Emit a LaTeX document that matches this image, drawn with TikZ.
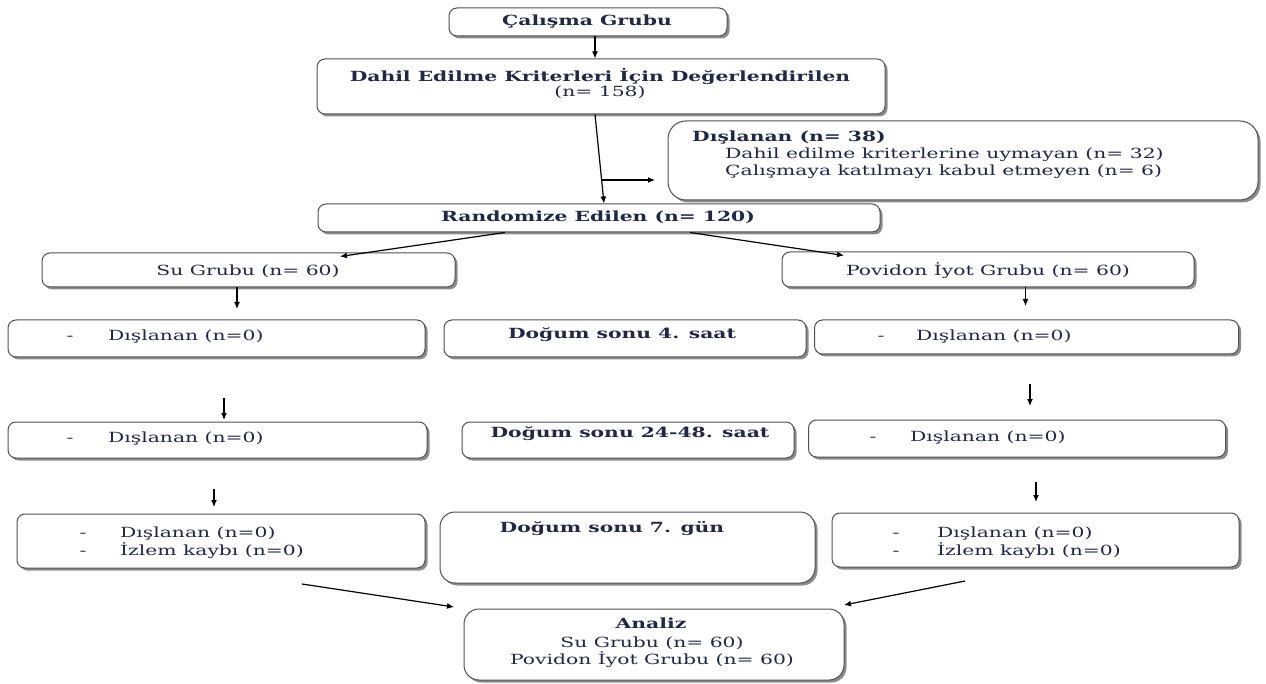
\documentclass[tikz,border=0pt]{standalone}
\usepackage{fontspec}
\setmainfont{DejaVu Serif}[FakeStretch=1.45]
\usetikzlibrary{shadows,arrows.meta}
\definecolor{txt}{RGB}{32,40,70}
\definecolor{edgec}{RGB}{80,80,80}
\begin{document}
\begin{tikzpicture}[x=1pt,y=-1pt,
 box/.style={draw=edgec, line width=1pt, rounded corners=8pt, fill=white,
   drop shadow={shadow xshift=2.5pt,shadow yshift=-2.5pt,fill=black!45,opacity=1}, inner sep=0pt},
 lbl/.style={text=txt, inner sep=0pt, anchor=base, font=\fontsize{14}{17}\selectfont},
 blbl/.style={text=txt, inner sep=0pt, anchor=base, font=\fontsize{14}{17}\selectfont\bfseries},
 arr/.style={-{Latex[length=7pt,width=6pt]}, line width=1.2pt, black}]
\useasboundingbox[fill=white] (0,0) rectangle (1266,684);

% boxes
\node[box, minimum width=278pt, minimum height=28pt] (b1) at (588,22) {};
\node[box, minimum width=568pt, minimum height=55pt] (b2) at (601,86.5) {};
\node[box, rounded corners=18pt, minimum width=590pt, minimum height=79pt] (ex) at (963,160.5) {};
\node[box, minimum width=562pt, minimum height=28pt] (rd) at (599,218) {};
\node[box, minimum width=413pt, minimum height=34pt] (su) at (248.5,270) {};
\node[box, minimum width=412pt, minimum height=35pt] (pv) at (988,269.5) {};
\node[box, minimum width=417pt, minimum height=37pt] (l3) at (216.5,338.5) {};
\node[box, minimum width=362pt, minimum height=37pt] (m3) at (625,338.5) {};
\node[box, minimum width=424pt, minimum height=34pt] (r3) at (1026.5,337) {};
\node[box, minimum width=419pt, minimum height=36pt] (l4) at (217.5,440) {};
\node[box, minimum width=332pt, minimum height=36pt] (m4) at (628,440) {};
\node[box, minimum width=417pt, minimum height=37pt] (r4) at (1017,438.5) {};
\node[box, minimum width=408pt, minimum height=54pt] (l5) at (221,541) {};
\node[box, rounded corners=15pt, minimum width=375pt, minimum height=71pt] (m5) at (627.5,547.5) {};
\node[box, minimum width=407pt, minimum height=54pt] (r5) at (1035.5,540) {};
\node[box, rounded corners=15pt, minimum width=380pt, minimum height=71pt] (an) at (654,644.5) {};

% texts
\node[blbl] (t1) at (587,26) {Çalışma Grubu};
\node[blbl] (t2a) at (600,82) {Dahil Edilme Kriterleri İçin Değerlendirilen};
\node[lbl] (t2b) at (600,97) {(n= 158)};
\node[blbl, anchor=base west] (tea) at (692,142) {Dışlanan (n= 38)};
\node[lbl, anchor=base west] (teb) at (725,159) {Dahil edilme kriterlerine uymayan (n= 32)};
\node[lbl, anchor=base west] (tec) at (725,176) {Çalışmaya katılmayı kabul etmeyen (n= 6)};
\node[blbl] (trd) at (598,222) {Randomize Edilen (n= 120)};
\node[lbl] (tsu) at (248,276) {Su Grubu (n= 60)};
\node[lbl] (tpv) at (988,276) {Povidon İyot Grubu (n= 60)};

\node[lbl] (dl3) at (70,341) {-};
\node[lbl, anchor=base west] (tl3) at (108,341) {Dışlanan (n=0)};
\node[blbl] (tm3) at (622,339) {Doğum sonu 4. saat};
\node[lbl] (dr3) at (881,341) {-};
\node[lbl, anchor=base west] (tr3) at (916,341) {Dışlanan (n=0)};

\node[lbl] (dl4) at (70,442) {-};
\node[lbl, anchor=base west] (tl4) at (108,442) {Dışlanan (n=0)};
\node[blbl] (tm4) at (630,437) {Doğum sonu 24-48. saat};
\node[lbl] (dr4) at (873,441) {-};
\node[lbl, anchor=base west] (tr4) at (910,441) {Dışlanan (n=0)};

\node[lbl] (dl5a) at (83,537) {-};
\node[lbl, anchor=base west] (tl5a) at (120,537) {Dışlanan (n=0)};
\node[lbl] (dl5b) at (83,555) {-};
\node[lbl, anchor=base west] (tl5b) at (120,555) {İzlem kaybı (n=0)};
\node[blbl] (tm5) at (612,532) {Doğum sonu 7. gün};
\node[lbl] (dr5a) at (896,537) {-};
\node[lbl, anchor=base west] (tr5a) at (937,537) {Dışlanan (n=0)};
\node[lbl] (dr5b) at (896,555) {-};
\node[lbl, anchor=base west] (tr5b) at (937,555) {İzlem kaybı (n=0)};

\node[blbl] (tan1) at (651,628) {Analiz};
\node[lbl] (tan2) at (652,647) {Su Grubu (n= 60)};
\node[lbl] (tan3) at (652,664) {Povidon İyot Grubu (n= 60)};

% free arrow ends
\coordinate (sp) at (602,180);
\coordinate (spe) at (655,180);
\coordinate (a1e) at (237,309);
\coordinate (a2e) at (1025.5,306);
\coordinate (a3s) at (224,398); \coordinate (a3e) at (224,420);
\coordinate (a4s) at (1030,384); \coordinate (a4e) at (1030,406);
\coordinate (a5s) at (214,489); \coordinate (a5e) at (214,507);
\coordinate (a6s) at (1036,482); \coordinate (a6e) at (1036,502);
\coordinate (a7s) at (302,584); \coordinate (a7e) at (454,607);
\coordinate (a8s) at (965,581); \coordinate (a8e) at (844,605);

% connectors
\draw[arr] ([xshift=7pt]b1.south) -- ([xshift=7pt]b1.south |- b2.north);
\draw[arr] ([xshift=-6pt]b2.south) -- ([xshift=5pt]rd.north);
\draw[arr] (sp) -- (spe);
\draw[arr] ([xshift=-94pt]rd.south) -- ([xshift=91.5pt,yshift=-4pt]su.north);
\draw[arr] ([xshift=91pt]rd.south) -- ([xshift=-144pt,yshift=-4pt]pv.north);
\draw[arr] (su.south -| a1e) -- (a1e);
\draw[arr] (pv.south -| a2e) -- (a2e);
\draw[arr] (a3s) -- (a3e);
\draw[arr] (a4s) -- (a4e);
\draw[arr] (a5s) -- (a5e);
\draw[arr] (a6s) -- (a6e);
\draw[arr] (a7s) -- (a7e);
\draw[arr] (a8s) -- (a8e);
\end{tikzpicture}
\end{document}
